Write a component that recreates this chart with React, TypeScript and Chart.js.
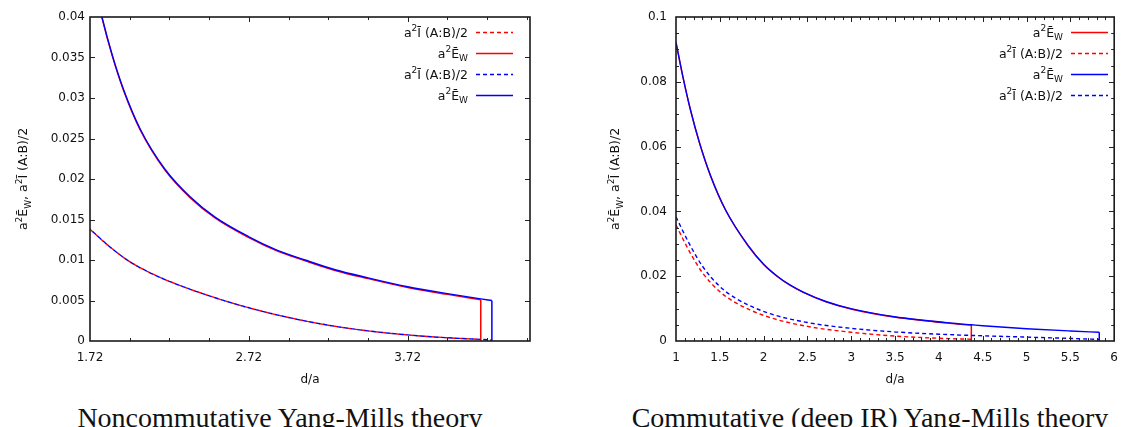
import React, { useEffect, useRef } from 'react';
import { Chart, registerables } from 'chart.js';

Chart.register(...registerables);

// ---------------- Data: left chart (Noncommutative) ----------------
const leftXTicks = [1.72, 2.72, 3.72];
const leftXTickLabels = ['1.72', '2.72', '3.72'];
const leftYTicks = [0, 0.005, 0.01, 0.015, 0.02, 0.025, 0.03, 0.035, 0.04];
const leftYTickLabels = ['0', '0.005', '0.01', '0.015', '0.02', '0.025', '0.03', '0.035', '0.04'];

const leftEwRedX = [1.72, 1.76, 1.794, 1.86, 1.93, 2.035, 2.192, 2.35, 2.507, 2.717, 2.9, 3.074, 3.263, 3.47, 3.72, 3.97, 4.18];
const leftEwRedY = [0.047, 0.0429, 0.04, 0.0352, 0.031, 0.0261, 0.0211, 0.0177, 0.0152, 0.0128, 0.0111, 0.0099, 0.0087, 0.0077, 0.0066, 0.00575, 0.0051];
const leftEwBlueX = [1.72, 1.76, 1.794, 1.86, 1.93, 2.035, 2.192, 2.35, 2.507, 2.717, 2.9, 3.074, 3.263, 3.47, 3.72, 3.97, 4.18, 4.25];
const leftEwBlueY = [0.0471, 0.043, 0.0401, 0.0353, 0.0311, 0.0262, 0.0212, 0.0178, 0.0153, 0.0129, 0.0112, 0.01, 0.0088, 0.0078, 0.0067, 0.00585, 0.0052, 0.005];
const leftIRedX = [1.72, 1.84, 1.962, 2.09, 2.215, 2.467, 2.72, 2.97, 3.22, 3.47, 3.72, 3.97, 4.18];
const leftIRedY = [0.0138, 0.0117, 0.0099, 0.0085, 0.0074, 0.0056, 0.0041, 0.0029, 0.00195, 0.00125, 0.00075, 0.0004, 0.0002];
const leftIBlueX = [1.72, 1.84, 1.962, 2.09, 2.215, 2.467, 2.72, 2.97, 3.22, 3.47, 3.72, 3.97, 4.18, 4.25];
const leftIBlueY = [0.0138, 0.0117, 0.0099, 0.0085, 0.0074, 0.0056, 0.0041, 0.0029, 0.00195, 0.00125, 0.00075, 0.0004, 0.0002, 0.00012];

// ---------------- Data: right chart (Commutative, deep IR) ----------------
const rightXTicks = [1, 1.5, 2, 2.5, 3, 3.5, 4, 4.5, 5, 5.5, 6];
const rightXTickLabels = ['1', '1.5', '2', '2.5', '3', '3.5', '4', '4.5', '5', '5.5', '6'];
const rightYTicks = [0, 0.02, 0.04, 0.06, 0.08, 0.1];
const rightYTickLabels = ['0', '0.02', '0.04', '0.06', '0.08', '0.1'];

const rightEwRedX = [1.0, 1.081, 1.163, 1.267, 1.396, 1.563, 1.822, 2.0, 2.156, 2.3, 2.452, 2.711, 3.007, 3.489, 4.193, 4.37];
const rightEwRedY = [0.0921, 0.0812, 0.0715, 0.0612, 0.0508, 0.0405, 0.0294, 0.0236, 0.0199, 0.0172, 0.015, 0.0121, 0.0098, 0.0074, 0.0053, 0.0049];
const rightEwBlueX = [1.0, 1.081, 1.163, 1.267, 1.396, 1.563, 1.822, 2.0, 2.156, 2.3, 2.452, 2.711, 3.007, 3.489, 4.193, 4.37, 4.5, 5.0, 5.5, 5.83];
const rightEwBlueY = [0.0922, 0.0813, 0.0716, 0.0613, 0.0509, 0.0406, 0.0295, 0.0237, 0.02, 0.0173, 0.0151, 0.0122, 0.0099, 0.0075, 0.0054, 0.005, 0.0047, 0.0038, 0.0031, 0.0027];
const rightIRedX = [1.0, 1.156, 1.304, 1.489, 1.674, 2.044, 2.5, 3.0, 3.5, 4.0, 4.37];
const rightIRedY = [0.0358, 0.0275, 0.021, 0.0155, 0.0119, 0.0075, 0.0045, 0.0027, 0.00152, 0.00084, 0.00053];
const rightIBlueX = [1.0, 1.156, 1.304, 1.489, 1.674, 2.044, 2.5, 3.0, 3.5, 4.0, 4.5, 5.0, 5.5, 5.83];
const rightIBlueY = [0.0383, 0.0298, 0.023, 0.0171, 0.0133, 0.0087, 0.0057, 0.0039, 0.0028, 0.0021, 0.0016, 0.0012, 0.0008, 0.0005];

const EW = 'a^2Ē_W';
const IAB = 'a^2Ī (A:B)/2';
const Y_TITLE = 'a^2Ē_W, a^2Ī (A:B)/2';
const X_TITLE = 'd/a';
const CAPTION_LEFT = 'Noncommutative Yang-Mills theory';
const CAPTION_RIGHT = 'Commutative (deep IR) Yang-Mills theory';

const RED = '#ff0000';
const BLUE = '#0000ff';
const INK = '#111111';
const FAMILY = '"DejaVu Sans", sans-serif';

type Series = { label: string; color: string; dashed: boolean; dashOffset: number; xs: number[]; ys: number[]; order: number };

type Spec = {
  width: number;
  height: number;
  padLeftArea: number;
  padRight: number;
  top: number;
  bottom: number;
  xMin: number;
  xMax: number;
  yMin: number;
  yMax: number;
  xTicks: number[];
  xTickLabels: string[];
  yTicks: number[];
  yTickLabels: string[];
  xMinorStart: number;
  xMinorStep: number;
  yMinorStart: number;
  yMinorStep: number;
  yLabelPad: number;
  yTitleX: number;
  legendTextRight: number;
  legendX0: number;
  legendX1: number;
  legendRows: number[];
  series: Series[];
};

function parseRich(s: string) {
  const segs: { t: string; k: 'n' | 'sup' | 'sub' }[] = [];
  let buf = '';
  for (let i = 0; i < s.length; i++) {
    const c = s[i];
    if (c === '^' || c === '_') {
      if (buf) segs.push({ t: buf, k: 'n' });
      buf = '';
      segs.push({ t: s[i + 1], k: c === '^' ? 'sup' : 'sub' });
      i++;
    } else buf += c;
  }
  if (buf) segs.push({ t: buf, k: 'n' });
  return segs;
}

function drawRich(ctx: CanvasRenderingContext2D, text: string, x: number, y: number, size: number, align: 'left' | 'right' | 'center') {
  const segs = parseRich(text);
  const small = size * 0.72;
  let total = 0;
  const widths = segs.map((s) => {
    ctx.font = `${s.k === 'n' ? size : small}px ${FAMILY}`;
    const w = ctx.measureText(s.t).width;
    total += w;
    return w;
  });
  let cx = align === 'right' ? x - total : align === 'center' ? x - total / 2 : x;
  ctx.textAlign = 'left';
  ctx.textBaseline = 'alphabetic';
  segs.forEach((s, i) => {
    ctx.font = `${s.k === 'n' ? size : small}px ${FAMILY}`;
    const dy = s.k === 'sup' ? -size * 0.42 : s.k === 'sub' ? size * 0.3 : 0;
    ctx.fillText(s.t, cx, y + dy);
    cx += widths[i];
  });
}

function range(start: number, step: number, max: number) {
  const out: number[] = [];
  for (let k = 0; ; k++) {
    const v = start + k * step;
    if (v > max + 1e-9) break;
    out.push(v);
  }
  return out;
}

function makeConfig(spec: Spec): any {
  const datasets: any[] = [];
  spec.series.forEach((s) => {
    datasets.push({
      label: s.label,
      data: s.xs.map((x, i) => ({ x, y: s.ys[i] })),
      borderColor: s.color,
      borderWidth: 1.4,
      borderDash: s.dashed ? [4, 3] : [],
      borderDashOffset: s.dashOffset,
      pointRadius: 0,
      fill: false,
      cubicInterpolationMode: 'monotone',
      order: s.order,
    });
    if (!s.dashed) {
      const lx = s.xs[s.xs.length - 1];
      const ly = s.ys[s.ys.length - 1];
      datasets.push({
        label: s.label + ' end',
        data: [
          { x: lx, y: ly },
          { x: lx, y: spec.yMin },
        ],
        borderColor: s.color,
        borderWidth: 1.5,
        pointRadius: 0,
        fill: false,
        order: s.order,
      });
    }
  });

  const plugin = {
    id: 'gnuDecor',
    afterDatasetsDraw(chart: any) {
      const { ctx, chartArea: a, scales } = chart;
      const xs = scales.x;
      const ys = scales.y;
      ctx.save();
      ctx.strokeStyle = '#222';
      ctx.lineWidth = 1;
      const majX = new Set(spec.xTicks.map((v) => v.toFixed(4)));
      const majY = new Set(spec.yTicks.map((v) => v.toFixed(4)));
      const allX = range(spec.xMinorStart, spec.xMinorStep, spec.xMax);
      spec.xTicks.forEach((v) => allX.push(v));
      const allY = range(spec.yMinorStart, spec.yMinorStep, spec.yMax);
      spec.yTicks.forEach((v) => allY.push(v));
      ctx.beginPath();
      allX.forEach((v) => {
        const len = majX.has(v.toFixed(4)) ? 5 : 3;
        const px = Math.round(xs.getPixelForValue(v)) + 0.5;
        if (px < a.left + 1 || px > a.right - 1) return;
        ctx.moveTo(px, a.bottom);
        ctx.lineTo(px, a.bottom - len);
        ctx.moveTo(px, a.top);
        ctx.lineTo(px, a.top + len);
      });
      allY.forEach((v) => {
        const len = majY.has(v.toFixed(4)) ? 5 : 3;
        const py = Math.round(ys.getPixelForValue(v)) + 0.5;
        if (py < a.top + 1 || py > a.bottom - 1) return;
        ctx.moveTo(a.left, py);
        ctx.lineTo(a.left + len, py);
        ctx.moveTo(a.right, py);
        ctx.lineTo(a.right - len, py);
      });
      ctx.stroke();
      // border
      ctx.lineWidth = 1.6;
      ctx.strokeStyle = '#1a1a1a';
      ctx.strokeRect(a.left, a.top, a.right - a.left, a.bottom - a.top);

      // legend
      ctx.fillStyle = INK;
      spec.series.forEach((s, i) => {
        const ry = spec.legendRows[i];
        drawRich(ctx, s.label, spec.legendTextRight, ry + 4.5, 12.5, 'right');
        ctx.beginPath();
        ctx.strokeStyle = s.color;
        ctx.lineWidth = 1.4;
        ctx.setLineDash(s.dashed ? [4, 3] : []);
        ctx.moveTo(spec.legendX0, ry + 0.5);
        ctx.lineTo(spec.legendX1, ry + 0.5);
        ctx.stroke();
        ctx.setLineDash([]);
      });

      // y title
      ctx.save();
      ctx.translate(spec.yTitleX, (a.top + a.bottom) / 2);
      ctx.rotate(-Math.PI / 2);
      ctx.fillStyle = INK;
      drawRich(ctx, Y_TITLE, 0, 0, 12.5, 'center');
      ctx.restore();

      // x title
      ctx.fillStyle = INK;
      ctx.font = `12px ${FAMILY}`;
      ctx.textAlign = 'center';
      ctx.textBaseline = 'alphabetic';
      ctx.fillText(X_TITLE, (a.left + a.right) / 2, 383);
      ctx.restore();
    },
  };

  return {
    type: 'line',
    data: { datasets },
    plugins: [plugin],
    options: {
      animation: false,
      responsive: false,
      devicePixelRatio: 1,
      layout: { padding: { left: 0, top: spec.top, right: spec.padRight, bottom: 0 } },
      plugins: { legend: { display: false }, tooltip: { enabled: false }, title: { display: false } },
      scales: {
        x: {
          type: 'linear',
          min: spec.xMin,
          max: spec.xMax,
          grid: { display: false, drawTicks: false },
          border: { display: false },
          ticks: {
            padding: 10,
            autoSkip: false,
            maxRotation: 0,
            color: INK,
            font: { family: FAMILY, size: 12 },
            callback: (_v: any, i: number) => spec.xTickLabels[i],
          },
          afterBuildTicks: (sc: any) => {
            sc.ticks = spec.xTicks.map((v) => ({ value: v }));
          },
          afterFit: (sc: any) => {
            sc.height = spec.height - spec.bottom;
          },
        },
        y: {
          type: 'linear',
          min: spec.yMin,
          max: spec.yMax,
          grid: { display: false, drawTicks: false },
          border: { display: false },
          ticks: {
            padding: spec.yLabelPad,
            autoSkip: false,
            color: INK,
            font: { family: FAMILY, size: 12 },
            callback: (_v: any, i: number) => spec.yTickLabels[i],
          },
          afterBuildTicks: (sc: any) => {
            sc.ticks = spec.yTicks.map((v) => ({ value: v }));
          },
          afterFit: (sc: any) => {
            sc.width = spec.padLeftArea;
          },
        },
      },
    },
  };
}

const CANVAS_H = 395;

const leftSpec: Spec = {
  width: 560,
  height: CANVAS_H,
  padLeftArea: 90,
  padRight: 30,
  top: 17,
  bottom: 341,
  xMin: 1.72,
  xMax: 4.49,
  yMin: 0,
  yMax: 0.04,
  xTicks: leftXTicks,
  xTickLabels: leftXTickLabels,
  yTicks: leftYTicks,
  yTickLabels: leftYTickLabels,
  xMinorStart: 1.72,
  xMinorStep: 0.25,
  yMinorStart: 0,
  yMinorStep: 0.005,
  yLabelPad: 5,
  yTitleX: 27,
  legendTextRight: 468,
  legendX0: 476,
  legendX1: 513,
  legendRows: [32, 53, 74, 95],
  series: [
    { label: IAB, color: RED, dashed: true, dashOffset: 0, xs: leftIRedX, ys: leftIRedY, order: 3 },
    { label: EW, color: RED, dashed: false, dashOffset: 0, xs: leftEwRedX, ys: leftEwRedY, order: 2 },
    { label: IAB, color: BLUE, dashed: true, dashOffset: 3.5, xs: leftIBlueX, ys: leftIBlueY, order: 1 },
    { label: EW, color: BLUE, dashed: false, dashOffset: 0, xs: leftEwBlueX, ys: leftEwBlueY, order: 0 },
  ],
};

const rightSpec: Spec = {
  width: 568,
  height: CANVAS_H,
  padLeftArea: 116,
  padRight: 5,
  top: 17,
  bottom: 341,
  xMin: 1,
  xMax: 6,
  yMin: 0,
  yMax: 0.1,
  xTicks: rightXTicks,
  xTickLabels: rightXTickLabels,
  yTicks: rightYTicks,
  yTickLabels: rightYTickLabels,
  xMinorStart: 1,
  xMinorStep: 0.1,
  yMinorStart: 0,
  yMinorStep: 0.005,
  yLabelPad: 9,
  yTitleX: 59,
  legendTextRight: 503,
  legendX0: 511,
  legendX1: 548,
  legendRows: [32, 53, 74, 95],
  series: [
    { label: EW, color: RED, dashed: false, dashOffset: 0, xs: rightEwRedX, ys: rightEwRedY, order: 2 },
    { label: IAB, color: RED, dashed: true, dashOffset: 0, xs: rightIRedX, ys: rightIRedY, order: 3 },
    { label: EW, color: BLUE, dashed: false, dashOffset: 0, xs: rightEwBlueX, ys: rightEwBlueY, order: 0 },
    { label: IAB, color: BLUE, dashed: true, dashOffset: 0, xs: rightIBlueX, ys: rightIBlueY, order: 1 },
  ],
};

function ChartCanvas({ spec, left }: { spec: Spec; left: number }) {
  const ref = useRef<HTMLCanvasElement | null>(null);
  useEffect(() => {
    if (!ref.current) return;
    const chart = new Chart(ref.current, makeConfig(spec));
    return () => chart.destroy();
  }, [spec]);
  return (
    <canvas
      ref={ref}
      width={spec.width}
      height={spec.height}
      style={{ position: 'absolute', left, top: 0, width: spec.width, height: spec.height, display: 'block' }}
    />
  );
}

const captionStyle: React.CSSProperties = {
  position: 'absolute',
  top: 404,
  fontFamily: '"Liberation Serif", serif',
  fontSize: 28,
  lineHeight: '28px',
  color: '#111',
  textAlign: 'center',
  whiteSpace: 'nowrap',
};

export default function App() {
  return (
    <div
      style={{
        position: 'fixed',
        left: 0,
        top: 0,
        width: 1128,
        height: 427,
        overflow: 'hidden',
        background: '#fff',
      }}
    >
      <ChartCanvas spec={leftSpec} left={0} />
      <ChartCanvas spec={rightSpec} left={560} />
      <div style={{ ...captionStyle, left: 0, width: 560 }}>{CAPTION_LEFT}</div>
      <div style={{ ...captionStyle, left: 570, width: 600 }}>{CAPTION_RIGHT}</div>
    </div>
  );
}
